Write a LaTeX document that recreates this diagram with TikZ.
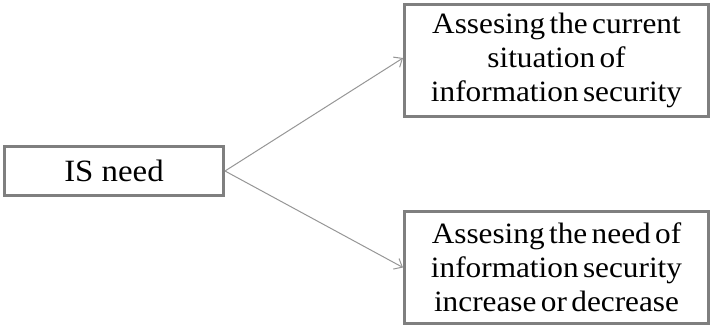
\documentclass[tikz,border=0pt]{standalone}
\usepackage{fontspec}
\setmainfont{Liberation Serif}[FakeStretch=1.06]
\usepackage{xcolor}
\usepackage{tikz}
\usetikzlibrary{arrows.meta}
\definecolor{boxgray}{RGB}{127,127,127}
\definecolor{linkgray}{RGB}{150,150,150}
\newcommand{\tightspace}{\spaceskip=0.15em plus 0.05em\relax}

\begin{document}
\begin{tikzpicture}[x=1pt, y=-1pt,
  isbox/.style={rectangle, draw=boxgray, line width=3pt, fill=white, minimum width=304pt, minimum height=112pt, align=center, inner sep=0pt, font=\fontsize{29.5}{34}\selectfont\tightspace},
  link/.style={-{Straight Barb[length=7pt, width=12pt]}, line width=1pt, linkgray}
]
\useasboundingbox (0,0) rectangle (714,327);
\node[isbox, minimum width=219pt, minimum height=49pt, font=\fontsize{31}{34}\selectfont] (need) at (114,171) {IS need};
\node[isbox] (current) at (556.5,60.5) {Assesing the current\\situation of\\information security};
\node[isbox] (change) at (556.5,267.5) {Assesing the need of\\information security\\increase or decrease};
\draw[link] (need.east) -- ([yshift=2.5pt]current.west);
\draw[link] (need.east) -- (change.west);
\end{tikzpicture}
\end{document}
